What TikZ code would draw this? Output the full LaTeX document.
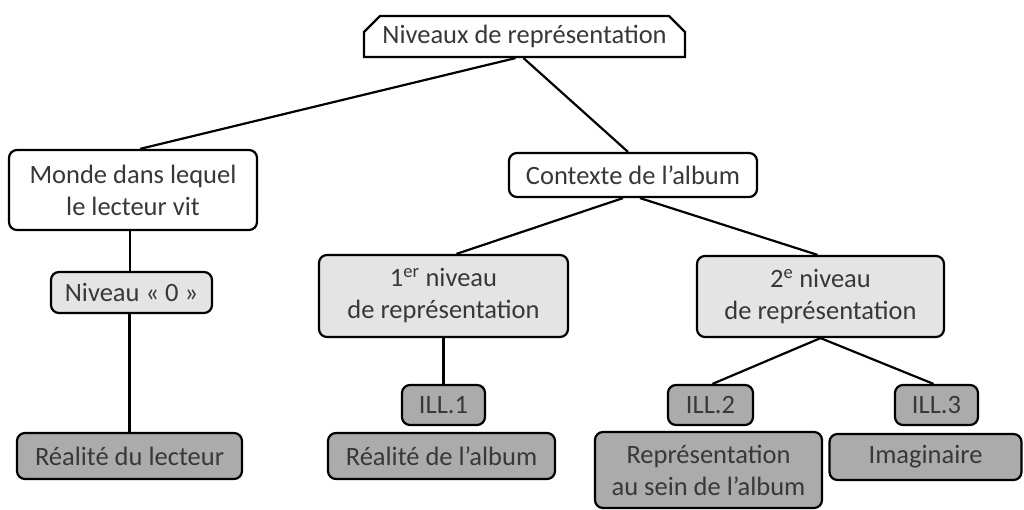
\documentclass[tikz,border=0pt]{standalone}
\usepackage{fontspec}
\setmainfont{Carlito}
\usetikzlibrary{shapes.misc}
\pgfdeclarelayer{background}
\pgfsetlayers{background,main}
\definecolor{inktext}{HTML}{383838}
\definecolor{paleface}{HTML}{E4E4E4}
\definecolor{darkface}{HTML}{ABABAB}
\tikzset{
  box/.style={draw=black, line width=2.2pt, text=inktext, align=center,
    inner sep=0pt, rounded corners=8pt,
    font=\fontsize{26.5}{32}\selectfont},
  whitebox/.style={box, fill=white},
  palebox/.style={box, fill=paleface},
  darkbox/.style={box, fill=darkface},
  snipbox/.style={whitebox, rounded corners=0pt, chamfered rectangle,
    chamfered rectangle corners={north west,north east},
    chamfered rectangle xsep=8pt, chamfered rectangle ysep=8pt},
  link/.style={draw=black, line width=2.2pt}
}
\begin{document}
\begin{tikzpicture}[x=1pt,y=-1pt]
\useasboundingbox (0,0) rectangle (1024,510);

% level 0: root
\node[snipbox, minimum width=321pt, minimum height=41pt] (root) at (524.5,36.5) {Niveaux de représentation};

% level 1
\node[whitebox, minimum width=248pt, minimum height=80pt] (monde) at (133,190) {Monde dans lequel\\le lecteur vit};
\node[whitebox, minimum width=248pt, minimum height=44pt] (ctx) at (633,175) {Contexte de l’album};

% level 2
\node[palebox, minimum width=161pt, minimum height=41pt] (niv0) at (131.5,292.5) {Niveau «~0~»};
\node[palebox, minimum width=249pt, minimum height=82pt] (rep1) at (443.5,296) {1\textsuperscript{er} niveau\\de représentation};
\node[palebox, minimum width=247pt, minimum height=81pt] (rep2) at (820.5,296.5) {2\textsuperscript{e} niveau\\de représentation};

% level 3: illustration tags
\node[darkbox, minimum width=83pt, minimum height=40pt] (ill1) at (443.5,405) {ILL.1};
\node[darkbox, minimum width=85pt, minimum height=40pt] (ill2) at (710.5,405) {ILL.2};
\node[darkbox, minimum width=83pt, minimum height=40pt] (ill3) at (936.5,405) {ILL.3};

% level 4: realities
\node[darkbox, minimum width=225pt, minimum height=46pt] (lect) at (129.5,456) {Réalité du lecteur};
\node[darkbox, minimum width=227pt, minimum height=46pt] (ralb) at (441.5,456) {Réalité de l’album};
\node[darkbox, minimum width=227pt, minimum height=76pt] (repr) at (708.5,470) {Représentation\\au sein de l’album};
\node[darkbox, minimum width=192pt, minimum height=46pt] (imag) at (925.5,457) {Imaginaire};

% page background and connectors, kept behind the boxes
\begin{pgfonlayer}{background}
\fill[white] (0,0) rectangle (1024,510);
\draw[link] ([xshift=-9pt]root.south) -- ([xshift=7pt]monde.north);
\draw[link] ([xshift=-1pt]root.south) -- ([xshift=-5pt]ctx.north);
\draw[link] ([xshift=-3pt]monde.south) -- ([xshift=-1.5pt]niv0.north);
\draw[link] (lect.north) -- (lect.north |- niv0.south);
\draw[link] ([xshift=-10pt]ctx.south) -- ([xshift=13pt]rep1.north);
\draw[link] ([xshift=7pt]ctx.south) -- ([xshift=-3pt]rep2.north);
\draw[link] (rep1.south) -- (ill1.north);
\draw[link] (rep2.south) -- ([xshift=2pt]ill2.north);
\draw[link] (rep2.south) -- ([xshift=-3pt]ill3.north);
\end{pgfonlayer}
\end{tikzpicture}
\end{document}
